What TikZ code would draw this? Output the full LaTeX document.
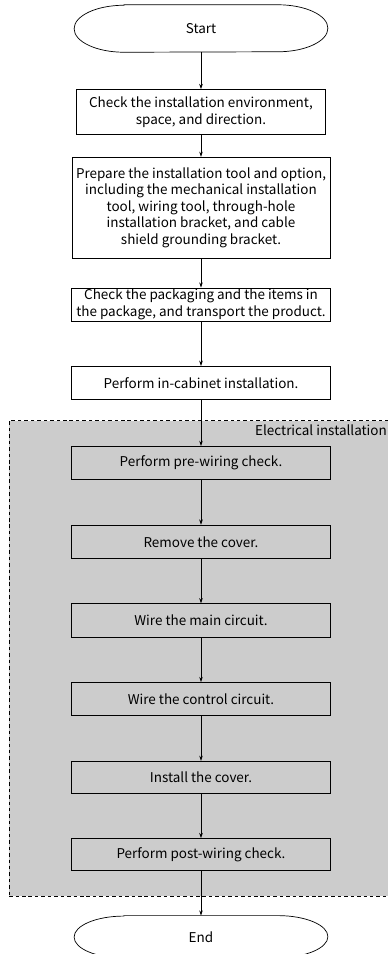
\documentclass[tikz,border=0pt]{standalone}
\usepackage{fontspec}
\setmainfont{Noto Sans CJK SC}
\usetikzlibrary{
  arrows.meta,
  positioning,
  fit,
  backgrounds,
}

\begin{document}
\begin{tikzpicture}[
  every node/.style={font=\fontsize{11.5}{14.1}\selectfont},
  stepbox/.style={
    rectangle, draw, line width=0.6pt, inner sep=1pt,
    minimum width=7.77cm, minimum height=1cm,
    align=center,
  },
  terminal/.style={
    rectangle, inner sep=1pt, minimum width=7.6cm,
  },
  flow/.style={-{Stealth[length=4.5pt,width=3pt]}, line width=0.6pt},
  node distance=1.34cm,
]
  \useasboundingbox (-6.03,0.855) rectangle (5.61,-27.765);

  \node[terminal, minimum height=1.41cm] (start) {Start};
  \node[stepbox, minimum width=7.47cm, minimum height=1.35cm, below=1.11cm of start] (env) {Check the installation environment,\\ space, and direction.};
  \node[stepbox, minimum width=7.74cm, minimum height=3.03cm, below=0.66cm of env] (tool) {Prepare the installation tool and option,\\ including the mechanical installation\\ tool, wiring tool, through-hole\\ installation bracket, and cable\\ shield grounding bracket.};
  \node[stepbox, minimum height=0.99cm, below=0.87cm of tool] (pack) {Check the packaging and the items in\\ the package, and transport the product.};
  \node[stepbox, below=of pack] (cabinet) {Perform in-cabinet installation.};
  \node[stepbox, below=1.38cm of cabinet] (prewire) {Perform pre-wiring check.};
  \node[stepbox, below=of prewire] (cover) {Remove the cover.};
  \node[stepbox, below=of cover] (mainckt) {Wire the main circuit.};
  \node[stepbox, below=of mainckt] (ctrlckt) {Wire the control circuit.};
  \node[stepbox, minimum height=0.96cm, below=of ctrlckt] (install) {Install the cover.};
  \node[stepbox, minimum height=0.96cm, below=of install] (postwire) {Perform post-wiring check.};
  \node[terminal, minimum height=1.26cm, below=of postwire] (end) {End};

  % Terminal outlines
  \foreach \n/\r in {start/0.705cm, end/0.63cm} {
    \draw[line width=0.6pt] ([xshift=1.5cm]\n.north west) -- ([xshift=-1.5cm]\n.north east)
      arc[start angle=90, end angle=-90, x radius=1.5cm, y radius=\r]
      -- ([xshift=1.5cm]\n.south west)
      arc[start angle=270, end angle=90, x radius=1.5cm, y radius=\r] -- cycle;
  }

  % Electrical installation group
  \begin{scope}[on background layer]
    \node[fit=(prewire)(postwire), inner xsep=1.86cm, inner ysep=0.76cm,
      draw, line width=0.6pt, dash pattern=on 3pt off 2.5pt, fill=black!20] (elec) {};
  \end{scope}
  \node[anchor=north east, inner sep=1pt] (elecname) at ([xshift=-0.15cm, yshift=-0.08cm]elec.north east) {Electrical installation};

  % Connectors
  \foreach \a/\b in {start/env, env/tool, tool/pack, pack/cabinet, cabinet/prewire,
    prewire/cover, cover/mainckt, mainckt/ctrlckt, ctrlckt/install, install/postwire, postwire/end}
    \draw[flow] (\a) -- (\b);

\end{tikzpicture}
\end{document}
